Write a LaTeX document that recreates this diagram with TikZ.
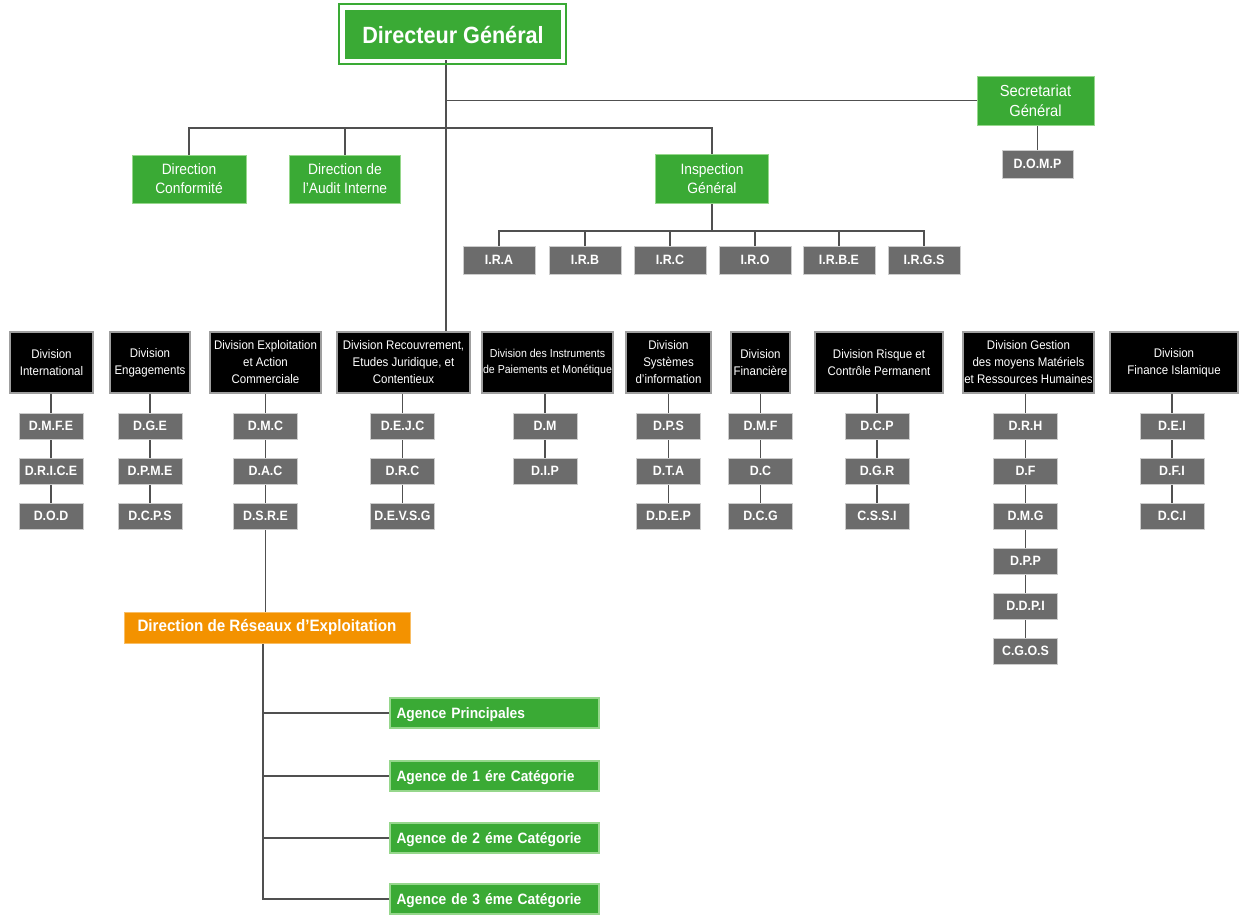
\documentclass[tikz,border=0pt]{standalone}
\usepackage{fontspec}
\setmainfont{Liberation Sans}[FakeStretch=0.92]
\usetikzlibrary{backgrounds}
\pgfdeclarelayer{bottom}
\pgfsetlayers{bottom,background,main}
\definecolor{gr}{RGB}{58,170,53}
\definecolor{grl}{RGB}{150,215,140}
\definecolor{org}{RGB}{243,146,0}
\definecolor{subg}{RGB}{108,108,108}
\definecolor{linec}{RGB}{80,80,80}
\newcommand\myfs[2]{\fontsize{#1}{#2}\selectfont}
\tikzset{
  box/.style={rectangle, inner sep=0pt, align=center, text=white},
  gbox/.style={box, fill=gr, draw=grl, line width=1pt, font=\myfs{15}{19}},
  divbox/.style={box, fill=black, draw=gray!75, line width=1.2pt, minimum height=61pt, font=\myfs{12.5}{17}},
  subbox/.style={box, fill=subg, draw=gray!40, line width=0.8pt, minimum width=64pt, minimum height=26pt, font=\bfseries\myfs{13.5}{15}},
  irbox/.style={subbox, minimum width=72pt, minimum height=28pt},
  agbox/.style={box, fill=gr, draw=grl, line width=1.2pt, minimum width=209pt, minimum height=30pt, text width=196pt, text height=11pt, text depth=1pt, align=left, font=\bfseries\myfs{15}{17}},
  lnk/.style={draw=linec, line width=1.6pt},
}
\newcommand\divcol[3]{%
  \foreach \t [count=\j] in {#3} { \node[subbox] (s#1-\j) at (#2,{426+45*(\j-1)}) {\t}; }%
}
\begin{document}
\begin{tikzpicture}[x=1pt,y=-1pt]
\useasboundingbox (0,0) rectangle (1239,914);
\begin{pgfonlayer}{bottom}
\fill[white] (0,0) rectangle (1239,914);
\end{pgfonlayer}
% top
\node[box, fill=gr, draw=white, line width=1.5pt, minimum width=217pt, minimum height=50pt, font=\bfseries\myfs{23.5}{26}] (dg) at (453,34.5) {Directeur Général};
\draw[gr, line width=1.6pt] ([shift={(-5pt,5pt)}]dg.north west) rectangle ([shift={(4pt,-4pt)}]dg.south east);
\coordinate (tk) at (446,0);
\coordinate (bus1) at (0,128);
\coordinate (bus2) at (0,231);
\node[gbox, minimum width=117pt, minimum height=49pt, font=\myfs{16}{20}] (sg) at (1035.5,100.5) {Secretariat\\Général};
\node[subbox, minimum width=71pt, minimum height=28pt] (domp) at (1037.5,164) {D.O.M.P};
\node[gbox, minimum width=114pt, minimum height=48pt] (dc) at (189,179) {Direction\\Conformité};
\node[gbox, minimum width=111pt, minimum height=48pt] (da) at (345,179) {Direction de\\l’Audit Interne};
\node[gbox, minimum width=113pt, minimum height=49pt] (ig) at (712,178.5) {Inspection\\Général};
\node[irbox] (ir1) at (499,260) {I.R.A};
\node[irbox] (ir2) at (585,260) {I.R.B};
\node[irbox] (ir3) at (670,260) {I.R.C};
\node[irbox] (ir4) at (755,260) {I.R.O};
\node[irbox] (ir5) at (839,260) {I.R.B.E};
\node[irbox] (ir6) at (924,260) {I.R.G.S};
% divisions
\node[divbox, minimum width=83pt] (d1) at (51.5,362.5) {Division\\International};
\node[divbox, minimum width=80pt] (d2) at (150,362.5) {Division\\Engagements};
\node[divbox, minimum width=111pt] (d3) at (265.5,362.5) {Division Exploitation\\et Action\\Commerciale};
\node[divbox, minimum width=133pt] (d4) at (403.5,362.5) {Division Recouvrement,\\Etudes Juridique, et\\Contentieux};
\node[divbox, minimum width=131pt, font=\myfs{11.5}{16}] (d5) at (547.5,362.5) {Division des Instruments\\de Paiements et Monétique};
\node[divbox, minimum width=85pt] (d6) at (668.5,362.5) {Division\\Systèmes\\d’information};
\node[divbox, minimum width=59pt] (d7) at (760.5,362.5) {Division\\Financière};
\node[divbox, minimum width=128pt] (d8) at (879,362.5) {Division Risque et\\Contrôle Permanent};
\node[divbox, minimum width=131pt] (d9) at (1028.5,362.5) {Division Gestion\\des moyens Matériels\\et Ressources Humaines};
\node[divbox, minimum width=128pt] (d10) at (1174,362.5) {Division\\Finance Islamique};
\divcol{1}{51}{D.M.F.E,D.R.I.C.E,D.O.D}
\divcol{2}{150}{D.G.E,D.P.M.E,D.C.P.S}
\divcol{3}{265.5}{D.M.C,D.A.C,D.S.R.E}
\divcol{4}{402.5}{D.E.J.C,D.R.C,D.E.V.S.G}
\divcol{5}{545}{D.M,D.I.P}
\divcol{6}{668.5}{D.P.S,D.T.A,D.D.E.P}
\divcol{7}{760.5}{D.M.F,D.C,D.C.G}
\divcol{8}{877}{D.C.P,D.G.R,C.S.S.I}
\divcol{9}{1025.5}{D.R.H,D.F,D.M.G,D.P.P,D.D.P.I,C.G.O.S}
\divcol{10}{1172}{D.E.I,D.F.I,D.C.I}
% network
\node[box, fill=org, draw=org!60!white, line width=1pt, minimum width=286pt, minimum height=31pt, font=\bfseries\myfs{16.5}{18}] (dre) at (267,627.5) {Direction de Réseaux d’Exploitation};
\coordinate (ax) at (263,0);
\node[agbox] (ag1) at (494.5,713) {Agence Principales};
\node[agbox] (ag2) at (494.5,776) {Agence de 1 ére Catégorie};
\node[agbox] (ag3) at (494.5,838) {Agence de 2 éme Catégorie};
\node[agbox] (ag4) at (494.5,899) {Agence de 3 éme Catégorie};
\begin{pgfonlayer}{background}
\draw[lnk] (dg.south -| tk) -- (d4.north -| tk);
\draw[lnk] (tk |- sg.west) -- (sg.west);
\draw[lnk] (sg.south -| domp.north) -- (domp.north);
\draw[lnk] (dc.north) -- (dc.north |- bus1) -- (ig.north |- bus1) -- (ig.north);
\draw[lnk] (da.north) -- (da.north |- bus1);
\draw[lnk] (ig.south) -- (ig.south |- bus2);
\draw[lnk] (ir1.north) -- (ir1.north |- bus2) -- (ir6.north |- bus2) -- (ir6.north);
\foreach \k in {2,3,4,5} { \draw[lnk] (ir\k.north) -- (ir\k.north |- bus2); }
\draw[lnk] (d1.south -| s1-1.north) -- (s1-3.north);
\draw[lnk] (d2.south) -- (s2-3.north);
\draw[lnk] (d3.south) -- (s3-3.north);
\draw[lnk] (d4.south -| s4-1.north) -- (s4-3.north);
\draw[lnk] (d5.south -| s5-1.north) -- (s5-2.north);
\draw[lnk] (d6.south) -- (s6-3.north);
\draw[lnk] (d7.south) -- (s7-3.north);
\draw[lnk] (d8.south -| s8-1.north) -- (s8-3.north);
\draw[lnk] (d9.south -| s9-1.north) -- (s9-6.north);
\draw[lnk] (d10.south -| s10-1.north) -- (s10-3.north);
\draw[lnk] (s3-3.south) -- (s3-3.south |- dre.north);
\draw[lnk] (dre.south -| ax) -- (ax |- ag4.west) -- (ag4.west);
\foreach \k in {1,2,3} { \draw[lnk] (ax |- ag\k.west) -- (ag\k.west); }
\end{pgfonlayer}
\end{tikzpicture}
\end{document}
